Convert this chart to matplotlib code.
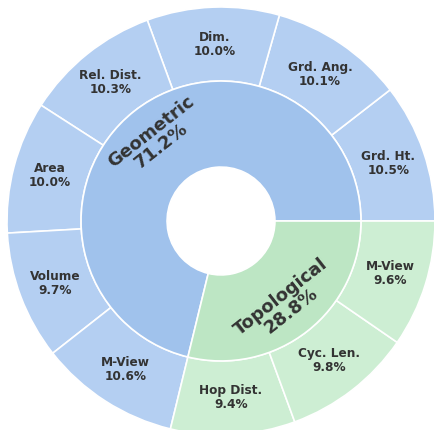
import matplotlib.pyplot as plt
import numpy as np

# inner ring
groups = ['Geometric', 'Topological']
group_vals = [71.2, 28.8]
group_colors = ['#a0c2ec', '#bde6c4']

# outer ring
subs = ['Grd. Ht.', 'Grd. Ang.', 'Dim.', 'Rel. Dist.', 'Area', 'Volume', 'M-View',
        'Hop Dist.', 'Cyc. Len.', 'M-View']
sub_vals = [10.5, 10.1, 10.0, 10.3, 10.0, 9.7, 10.6, 9.4, 9.8, 9.6]
sub_colors = ['#b4cff2'] * 7 + ['#cdeed3'] * 3

R = 1.0
fig = plt.figure(figsize=(4.34, 4.30), dpi=100)
ax = fig.add_axes([0, 0, 1, 1])

ax.pie(sub_vals, radius=R, startangle=0, counterclock=True, colors=sub_colors,
       wedgeprops=dict(width=R - 0.654, edgecolor='white', linewidth=1.2))
ax.pie(group_vals, radius=0.654, startangle=0, counterclock=True, colors=group_colors,
       wedgeprops=dict(width=0.654 - 0.252, edgecolor='white', linewidth=1.2))


def tangent_rot(a):
    r = a - 90
    if r > 90:
        r -= 180
    if r < -90:
        r += 180
    return r


start = 0.0
for name, v in zip(subs, sub_vals):
    mid = np.deg2rad(start + v * 3.6 / 2)
    ax.text(0.827 * np.cos(mid), 0.827 * np.sin(mid), f'{name}\n{v:.1f}%',
            ha='center', va='center', fontsize=8.7, fontweight='bold',
            color='#333333', linespacing=1.1)
    start += v * 3.6

start = 0.0
for name, v in zip(groups, group_vals):
    a = start + v * 3.6 / 2
    mid = np.deg2rad(a)
    ax.text(0.49 * np.cos(mid), 0.49 * np.sin(mid), f'{name}\n{v:.1f}%',
            ha='center', va='center', fontsize=13, fontweight='bold',
            color='#333333', rotation=tangent_rot(a), rotation_mode='anchor',
            linespacing=0.95)
    start += v * 3.6

s = 214.0
ax.set_xlim(-221 / s, 213 / s)
ax.set_ylim(-209 / s, 221 / s)
ax.set_aspect('equal')
ax.axis('off')

fig.savefig('out.png', dpi=100)
